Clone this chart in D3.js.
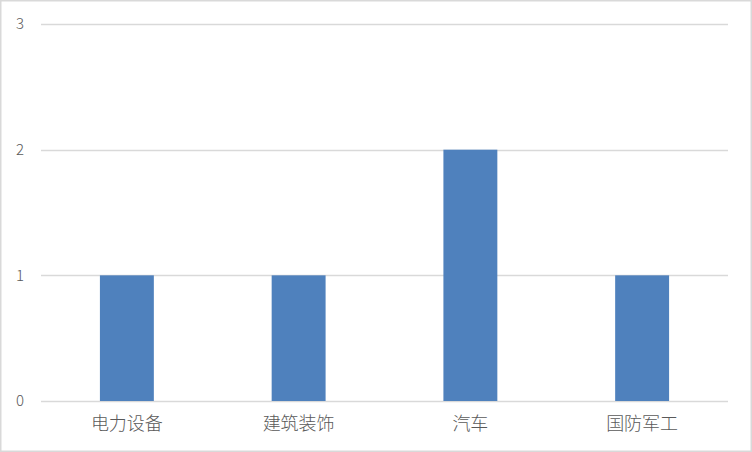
<!DOCTYPE html>
<html><head><meta charset="utf-8">
<script src="https://cdn.jsdelivr.net/npm/d3@7"></script>
<style>html,body{margin:0;padding:0;background:#fff;}svg{display:block;}</style>
</head><body>
<svg id="c" width="752" height="452"></svg>
<script>
const categories = ["电力设备", "建筑装饰", "汽车", "国防军工"];
const values = [1, 1, 2, 1];
const yTicks = [0, 1, 2, 3];

const svg = d3.select("#c");
const W = 752, H = 452;
const m = {left: 41, right: 24, top: 24, bottom: 51};
svg.append("rect").attr("x", 0.75).attr("y", 0.75).attr("width", W - 1.5).attr("height", H - 1.5)
  .attr("fill", "#fff").attr("stroke", "#d9d9d9").attr("stroke-width", 1.5);

const x = d3.scaleBand().domain(categories).range([m.left, W - m.right]).paddingInner(0.686).paddingOuter(0.343);
const y = d3.scaleLinear().domain([0, 3]).range([H - m.bottom, m.top]);

const font = "'Microsoft YaHei','Noto Sans CJK SC',sans-serif";

// gridlines
svg.append("g").selectAll("line").data(yTicks).join("line")
  .attr("x1", m.left).attr("x2", W - m.right)
  .attr("y1", d => Math.round(y(d)) + 0.5).attr("y2", d => Math.round(y(d)) + 0.5)
  .attr("stroke", "#d9d9d9").attr("stroke-width", 1.5);

// y labels
const yAxis = d3.axisLeft(y).tickValues(yTicks).tickSize(0).tickPadding(0).tickFormat(d3.format("d"));
const ya = svg.append("g").attr("transform", `translate(24,0)`).call(yAxis);
ya.select(".domain").remove();
ya.selectAll("text").attr("fill", "#595959").style("font-family", font).style("font-size", "15px").style("font-weight", 300);

// bars
svg.append("g").selectAll("rect").data(values).join("rect")
  .attr("x", (d, i) => x(categories[i]))
  .attr("width", x.bandwidth())
  .attr("y", d => y(d))
  .attr("height", d => y(0) - y(d))
  .attr("fill", "#4f81bd");

// x labels
const xAxis = d3.axisBottom(x).tickSize(0).tickPadding(16);
const xa = svg.append("g").attr("transform", `translate(0,${y(0)})`).call(xAxis);
xa.select(".domain").remove();
xa.selectAll("text").attr("fill", "#595959").style("font-family", font).style("font-size", "18px").style("font-weight", 300);
</script>
</body></html>
